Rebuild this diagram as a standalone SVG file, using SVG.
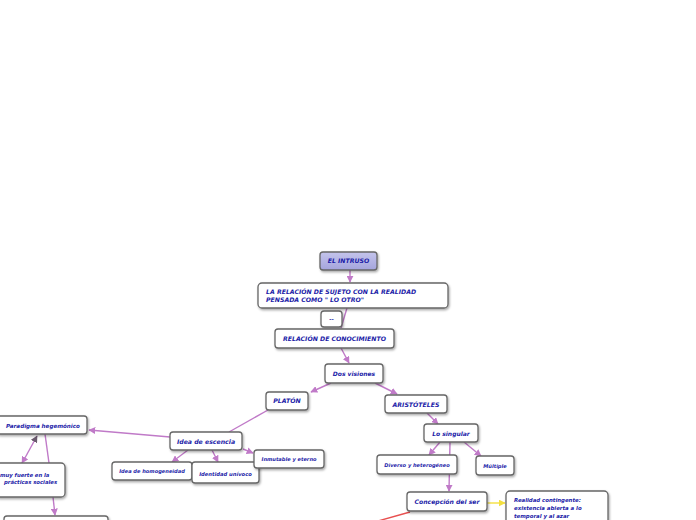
<svg xmlns="http://www.w3.org/2000/svg" width="696" height="520" viewBox="0 0 696 520">
<defs>
<marker id="a" viewBox="0 0 10 10" refX="9" refY="5" markerWidth="7" markerHeight="7" markerUnits="userSpaceOnUse" orient="auto"><path d="M0,0 L10,5 L0,10 z" fill="#c07ac8"/></marker>
<marker id="ad" viewBox="0 0 10 10" refX="9" refY="5" markerWidth="7" markerHeight="7" markerUnits="userSpaceOnUse" orient="auto"><path d="M0,0 L10,5 L0,10 z" fill="#6a5a6e"/></marker>
<marker id="ay" viewBox="0 0 10 10" refX="9" refY="5" markerWidth="7" markerHeight="7" markerUnits="userSpaceOnUse" orient="auto"><path d="M0,0 L10,5 L0,10 z" fill="#f4e040"/></marker>
<linearGradient id="lav" x1="0" y1="0" x2="0" y2="1"><stop offset="0" stop-color="#c4c4ec"/><stop offset="1" stop-color="#a4a4dc"/></linearGradient>
<filter id="sh" x="-10%" y="-20%" width="130%" height="160%"><feDropShadow dx="1" dy="1.5" stdDeviation="1" flood-color="#000" flood-opacity="0.35"/></filter>
</defs>
<style>
.n{fill:#fff;stroke:#666;stroke-width:1.3;filter:url(#sh)}
.t{font-family:"DejaVu Sans",Verdana,sans-serif;font-weight:bold;font-style:italic;fill:#1c1ca8;font-size:5.6px}
.u{font-size:6.2px}
.c{text-anchor:middle}
.l{stroke:#c07ac8;stroke-width:1.4;fill:none}
</style>
<rect width="696" height="520" fill="#fff"/>
<g id="connectors">
<line class="l" x1="350" y1="270" x2="350" y2="282" marker-end="url(#a)"/>
<line class="l" x1="347" y1="308" x2="341" y2="328"/>
<line class="l" x1="341" y1="348" x2="349" y2="363" marker-end="url(#a)"/>
<line class="l" x1="331" y1="383" x2="311" y2="392" marker-end="url(#a)"/>
<line class="l" x1="375" y1="383" x2="397" y2="394" marker-end="url(#a)"/>
<line class="l" x1="268" y1="410" x2="229" y2="432"/>
<line class="l" x1="170" y1="437" x2="89" y2="430" marker-end="url(#a)"/>
<line class="l" x1="26" y1="456" x2="22" y2="463" marker-end="url(#a)"/>
<line class="l" x1="26" y1="456" x2="37" y2="436" marker-end="url(#ad)"/>
<line class="l" x1="45" y1="434" x2="49" y2="463"/>
<line class="l" x1="53" y1="497" x2="55" y2="515" marker-end="url(#a)"/>
<line class="l" x1="188" y1="450" x2="172" y2="462" marker-end="url(#a)"/>
<line class="l" x1="212" y1="450" x2="218" y2="462" marker-end="url(#a)"/>
<line class="l" x1="243" y1="449" x2="253" y2="453" marker-end="url(#a)"/>
<line class="l" x1="427" y1="413" x2="438" y2="424" marker-end="url(#a)"/>
<line class="l" x1="440" y1="442" x2="429" y2="455" marker-end="url(#a)"/>
<line class="l" x1="464" y1="442" x2="481" y2="456" marker-end="url(#a)"/>
<line class="l" x1="450" y1="442" x2="449" y2="491" marker-end="url(#a)"/>
<line x1="487" y1="503" x2="505" y2="503" stroke="#f4e040" stroke-width="1.4" marker-end="url(#ay)"/>
<line x1="410" y1="512" x2="378" y2="521" stroke="#e85050" stroke-width="1.4"/>
</g>
<g id="n-intruso"><rect x="320" y="252" width="57" height="18" rx="3" fill="url(#lav)" stroke="#666" stroke-width="1.3" filter="url(#sh)"/><text class="t u c" x="348.5" y="263">EL INTRUSO</text></g>
<g id="n-relacion-sujeto"><rect class="n" x="258" y="283" width="190" height="25" rx="4"/><text class="t u" x="266" y="294">LA RELACIÓN DE SUJETO CON LA REALIDAD</text><text class="t u" x="266" y="302">PENSADA COMO " LO OTRO"</text></g>
<g id="n-dash"><rect class="n" x="321" y="311" width="21" height="16" rx="3"/><text class="t c" x="331.5" y="321">--</text></g>
<g id="n-relacion-conoc"><rect class="n" x="275" y="329" width="119" height="19" rx="3"/><text class="t u c" x="334.5" y="341">RELACIÓN DE CONOCIMIENTO</text></g>
<g id="n-dos"><rect class="n" x="325" y="364" width="58" height="19" rx="3"/><text class="t c" x="354" y="376" style="font-size:6px">Dos visiones</text></g>
<g id="n-platon"><rect class="n" x="266" y="392" width="42" height="18" rx="3"/><text class="t u c" x="287" y="403">PLATÓN</text></g>
<g id="n-aristoteles"><rect class="n" x="385" y="395" width="62" height="18" rx="3"/><text class="t u c" x="416" y="407">ARISTÓTELES</text></g>
<g id="n-idea"><rect class="n" x="170" y="432" width="72" height="18" rx="3"/><text class="t c" x="206" y="443.5" style="font-size:6.2px">Idea de escencia</text></g>
<g id="n-paradigma"><rect class="n" x="-3" y="416" width="90" height="18" rx="3"/><text class="t c" x="43" y="427.5">Paradigma hegemónico</text></g>
<g id="n-fuerte"><rect class="n" x="-5" y="463" width="70" height="34" rx="4"/><text class="t" x="0" y="477" style="font-size:5.3px">muy fuerte en la</text><text class="t" x="4" y="483.5" style="font-size:5.3px">prácticas sociales</text></g>
<g id="n-bottom"><rect class="n" x="4" y="516" width="104" height="16" rx="3"/></g>
<g id="n-homog"><rect class="n" x="112" y="462" width="80" height="18" rx="3"/><text class="t c" x="152" y="473" style="font-size:5.1px">Idea de homogeneidad</text></g>
<g id="n-identidad"><rect class="n" x="192" y="462" width="67" height="21" rx="3"/><text class="t c" x="225.5" y="476" style="font-size:5.2px">Identidad unívoco</text></g>
<g id="n-inmutable"><rect class="n" x="254" y="450" width="70" height="18" rx="3"/><text class="t c" x="289" y="461" style="font-size:5.1px">Inmutable y eterno</text></g>
<g id="n-singular"><rect class="n" x="424" y="424" width="54" height="18" rx="3"/><text class="t c" x="451" y="435.5" style="font-size:6px">Lo singular</text></g>
<g id="n-diverso"><rect class="n" x="377" y="455" width="80" height="19" rx="3"/><text class="t c" x="417" y="467" style="font-size:5.1px">Diverso y heterogéneo</text></g>
<g id="n-multiple"><rect class="n" x="476" y="456" width="38" height="19" rx="3"/><text class="t c" x="495" y="468" style="font-size:5.1px">Múltiple</text></g>
<g id="n-concepcion"><rect class="n" x="407" y="492" width="80" height="19" rx="3"/><text class="t c" x="447" y="504" style="font-size:6.1px">Concepción del ser</text></g>
<g id="n-realidad"><rect class="n" x="506" y="491" width="102" height="36" rx="4"/><text class="t" x="514" y="502" style="font-size:5.4px">Realidad contingente:</text><text class="t" x="514" y="510" style="font-size:5.4px">existencia abierta a lo</text><text class="t" x="514" y="518" style="font-size:5.4px">temporal y al azar</text></g>
</svg>
